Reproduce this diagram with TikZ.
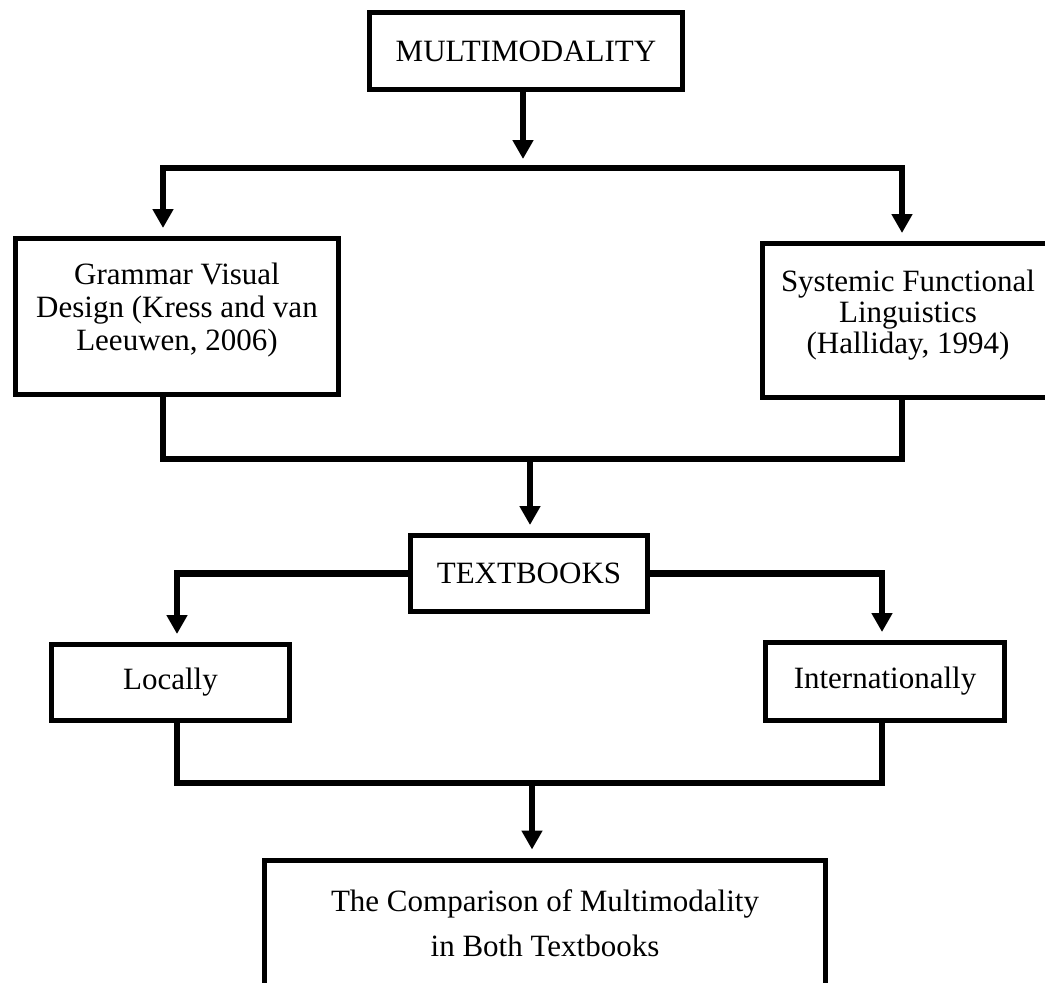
\documentclass[tikz,border=0pt]{standalone}
\usepackage{fontspec}
\setmainfont{Liberation Serif}
\usetikzlibrary{arrows.meta}

\begin{document}
\begin{tikzpicture}[x=0.5pt, y=-0.5pt,
  box/.style={draw, line width=2.5pt, align=center, inner sep=0pt,
    font=\fontsize{15.5}{15.5}\selectfont},
  link/.style={line width=3.1pt, line join=miter},
  arrow/.style={link, -{Triangle[width=10pt,length=9.5pt]}}]
  \useasboundingbox (0,0) rectangle (1045,982);
  \clip (0,0) rectangle (1045,982);
  % Boxes
  \node[box, minimum width=156.5pt, minimum height=38.5pt] (multi) at (526,51) {MULTIMODALITY};
  \node[box, minimum width=161.5pt, minimum height=78pt, font=\fontsize{15.5}{16.5}\selectfont]
    (grammar) at (177,316.5)
    {Grammar Visual\\Design (Kress and van\\Leeuwen, 2006)\rule[-10pt]{0pt}{0pt}};
  \node[box, minimum width=146pt, minimum height=77pt, font=\fontsize{15.5}{15.6}\selectfont]
    (systemic) at (908,320.5)
    {Systemic Functional\\Linguistics\\(Halliday, 1994)\rule[-9pt]{0pt}{0pt}};
  \node[box, minimum width=118.5pt, minimum height=38pt] (textbooks) at (529,573.5) {TEXTBOOKS};
  \node[box, minimum width=119pt, minimum height=38pt] (locally) at (170.5,682.5) {Locally};
  \node[box, minimum width=119.5pt, minimum height=39pt] (intl) at (885,681.5) {Internationally};
  \node[box, minimum width=280.5pt, minimum height=66pt, font=\fontsize{15.5}{22.5}\selectfont]
    (final) at (545,926) {The Comparison of Multimodality\\in Both Textbooks\rule[-3pt]{0pt}{0pt}};
  % Junction points
  \coordinate (j1) at (523,168);
  \coordinate (l1) at (163,168);
  \coordinate (r1) at (902,168);
  \coordinate (j2) at (530,459);
  \coordinate (l2) at (163,459);
  \coordinate (r2) at (902,459);
  \coordinate (j3) at (532,783);
  \coordinate (l3) at (177,783);
  \coordinate (r3) at (882,783);
  % Multimodality to theories
  \draw[arrow] (multi.south -| j1) -- ([yshift=4.5pt]j1);
  \draw[arrow] (j1) -- (l1) -- ([yshift=4pt]grammar.north -| l1);
  \draw[arrow] (j1) -- (r1) -- ([yshift=4pt]systemic.north -| r1);
  % Theories to textbooks
  \draw[link] (grammar.south -| l2) -- (l2) -- (r2) -- (systemic.south -| r2);
  \draw[arrow] (j2) -- ([yshift=4pt]textbooks.north -| j2);
  % Textbooks to local and international
  \draw[arrow] (textbooks.west) -- (textbooks.west -| l3) -- ([yshift=4pt]locally.north -| l3);
  \draw[arrow] (textbooks.east) -- (textbooks.east -| r3) -- ([yshift=4pt]intl.north -| r3);
  % Both to comparison
  \draw[link] (locally.south -| l3) -- (l3) -- (r3) -- (intl.south -| r3);
  \draw[arrow] (j3) -- ([yshift=4pt]final.north -| j3);
\end{tikzpicture}
\end{document}
